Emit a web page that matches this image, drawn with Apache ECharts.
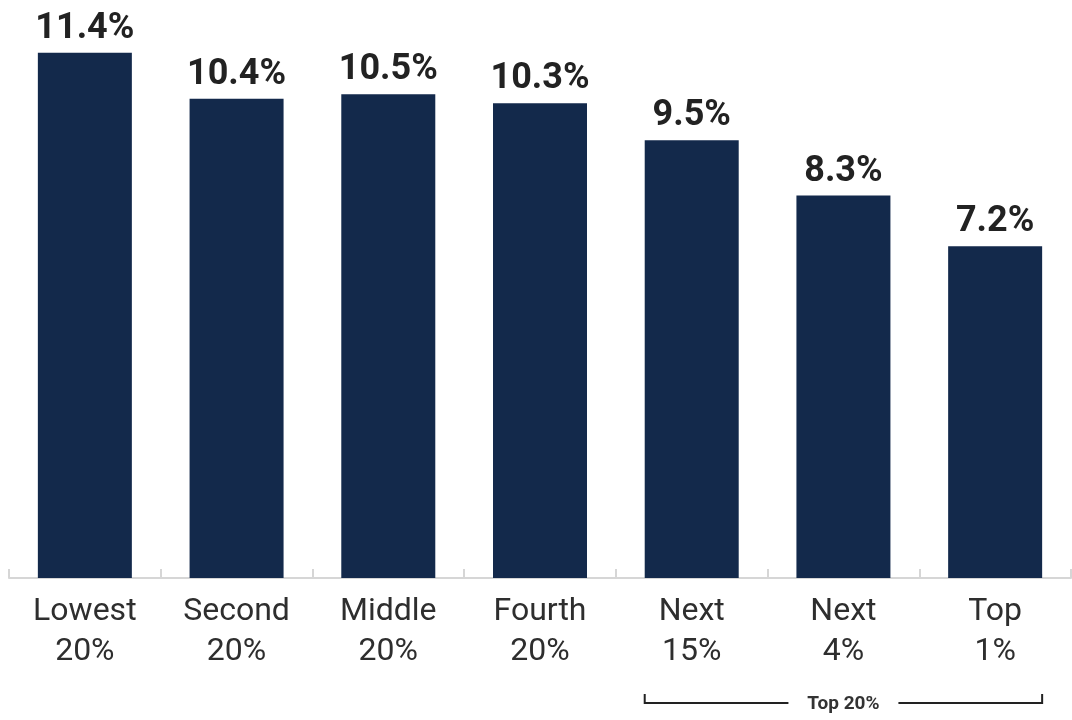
<!DOCTYPE html>
<html>
<head>
<meta charset="utf-8">
<style>
  html, body { margin: 0; padding: 0; background: #ffffff; }
  #chart { width: 1072px; height: 720px; }
</style>
<script src="https://cdn.jsdelivr.net/npm/echarts@6/dist/echarts.min.js"></script>
</head>
<body>
<div id="chart"></div>
<script>
// Income groups and their shares (%)
const categories = ['Lowest\n20%', 'Second\n20%', 'Middle\n20%', 'Fourth\n20%', 'Next\n15%', 'Next\n4%', 'Top\n1%'];
const values = [11.4, 10.4, 10.5, 10.3, 9.5, 8.3, 7.2];
const bracketLabel = 'Top 20%';
const bracketFrom = 4; // first category covered by the bracket
const bracketTo = 6;   // last category covered by the bracket

const BAR_COLOR = '#13294b';
const BAR_WIDTH = 94;

const chart = echarts.init(document.getElementById('chart'), null, { renderer: 'canvas' });

const option = {
  animation: false,
  grid: { left: 9, right: 1, top: 25, bottom: 142, containLabel: false },
  xAxis: {
    type: 'category',
    data: categories,
    axisLine: { show: true, lineStyle: { color: '#d6d6d6', width: 2 } },
    axisTick: { show: true, inside: true, length: 9, lineStyle: { color: '#d6d6d6', width: 2 } },
    axisLabel: {
      color: '#2e2e2e',
      fontFamily: 'Roboto',
      fontSize: 32,
      lineHeight: 40,
      margin: 14
    }
  },
  yAxis: {
    type: 'value',
    min: 0,
    max: 12,
    show: false,
    splitLine: { show: false }
  },
  series: [{
    type: 'bar',
    data: values,
    barWidth: BAR_WIDTH,
    itemStyle: { color: BAR_COLOR },
    label: {
      show: true,
      position: 'top',
      distance: 6,
      formatter: p => p.value.toFixed(1) + '%',
      color: '#222222',
      fontFamily: 'Roboto',
      fontWeight: 'bold',
      fontSize: 36
    }
  }]
};

chart.setOption(option);

// Bracket under the top groups, placed from the axis scale
const leftX = chart.convertToPixel({ xAxisIndex: 0 }, bracketFrom) - BAR_WIDTH / 2;
const rightX = chart.convertToPixel({ xAxisIndex: 0 }, bracketTo) + BAR_WIDTH / 2;
const midX = (leftX + rightX) / 2;
const lineY = 703;
const gapHalf = 55;
const lineStyle = { stroke: '#222222', lineWidth: 2 };

chart.setOption({
  graphic: [
    { type: 'polyline', shape: { points: [[leftX, lineY - 9], [leftX, lineY], [midX - gapHalf, lineY]] }, style: lineStyle, silent: true },
    { type: 'polyline', shape: { points: [[midX + gapHalf, lineY], [rightX, lineY], [rightX, lineY - 9]] }, style: lineStyle, silent: true },
    {
      type: 'text',
      x: midX,
      y: lineY + 1,
      style: {
        text: bracketLabel,
        fill: '#333333',
        font: 'bold 19px Roboto',
        textAlign: 'center',
        textVerticalAlign: 'middle'
      },
      silent: true
    }
  ]
});
</script>
</body>
</html>
